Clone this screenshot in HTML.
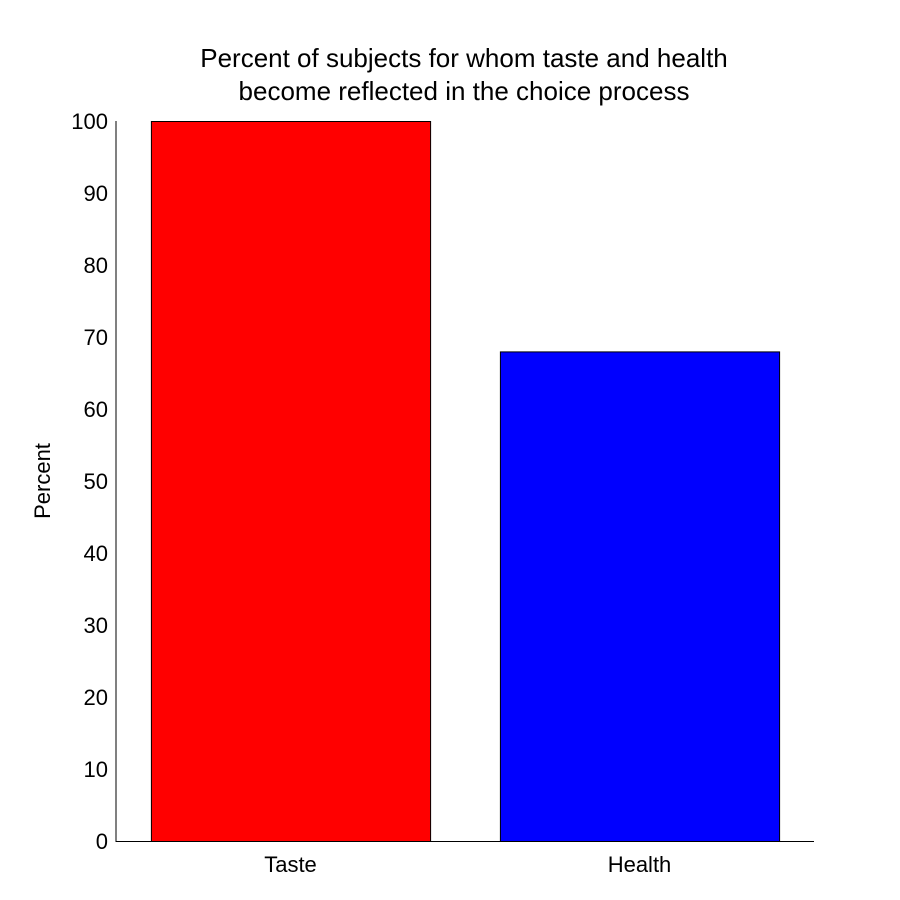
<!DOCTYPE html>
<html><head><meta charset="utf-8"><style>
body{margin:0;background:#fff;}
svg{display:block;font-family:"Liberation Sans",Arial,sans-serif;}
</style></head><body>
<svg id="chart" width="900" height="900" viewBox="0 0 900 900">
<rect x="0" y="0" width="900" height="900" fill="#fff"/>
<text x="464" y="67" text-anchor="middle" font-size="26">Percent of subjects for whom taste and health</text>
<text x="464" y="100" text-anchor="middle" font-size="26">become reflected in the choice process</text>
<text transform="translate(50,481) rotate(-90)" text-anchor="middle" font-size="22">Percent</text>
<g id="bars"></g>
<g id="yticks"></g>
<g id="xticks"></g>
<line x1="116" y1="121" x2="116" y2="841.5" stroke="#000" stroke-width="1"/>
<line x1="115.5" y1="841.5" x2="814" y2="841.5" stroke="#000" stroke-width="1"/>
</svg>
<script>
const categories = ["Taste", "Health"];
const values = [100, 68];
const colors = ["#ff0000", "#0000ff"];
const yTicks = [0, 10, 20, 30, 40, 50, 60, 70, 80, 90, 100];

const NS = "http://www.w3.org/2000/svg";
const y = v => 841 - v * 7.2;
const x = i => 116 + (i + 0.5) * 349; // category index 0 -> 1 on axis
const barW = 0.8 * 349;

const barsG = document.getElementById('bars');
categories.forEach((c, i) => {
  const r = document.createElementNS(NS, 'rect');
  
  
  r.setAttribute('x', x(i) - barW / 2 + 0.5);
  r.setAttribute('y', y(values[i]) + 0.5);
  r.setAttribute('width', barW);
  r.setAttribute('height', y(0) - y(values[i]));
  r.setAttribute('fill', colors[i]);
  r.setAttribute('stroke', '#000');
  r.setAttribute('stroke-width', '1');
  barsG.appendChild(r);
});

const yG = document.getElementById('yticks');
yTicks.forEach(t => {
  const tx = document.createElementNS(NS, 'text');
  
  
  tx.setAttribute('x', 108);
  tx.setAttribute('y', y(t) + 8);
  tx.setAttribute('text-anchor', 'end');
  tx.setAttribute('font-size', '22');
  tx.textContent = t;
  yG.appendChild(tx);
});

const xG = document.getElementById('xticks');
categories.forEach((c, i) => {
  const tx = document.createElementNS(NS, 'text');
  
  
  tx.setAttribute('x', x(i));
  tx.setAttribute('y', 872);
  tx.setAttribute('text-anchor', 'middle');
  tx.setAttribute('font-size', '22');
  tx.textContent = c;
  xG.appendChild(tx);
});
</script>
</body></html>
